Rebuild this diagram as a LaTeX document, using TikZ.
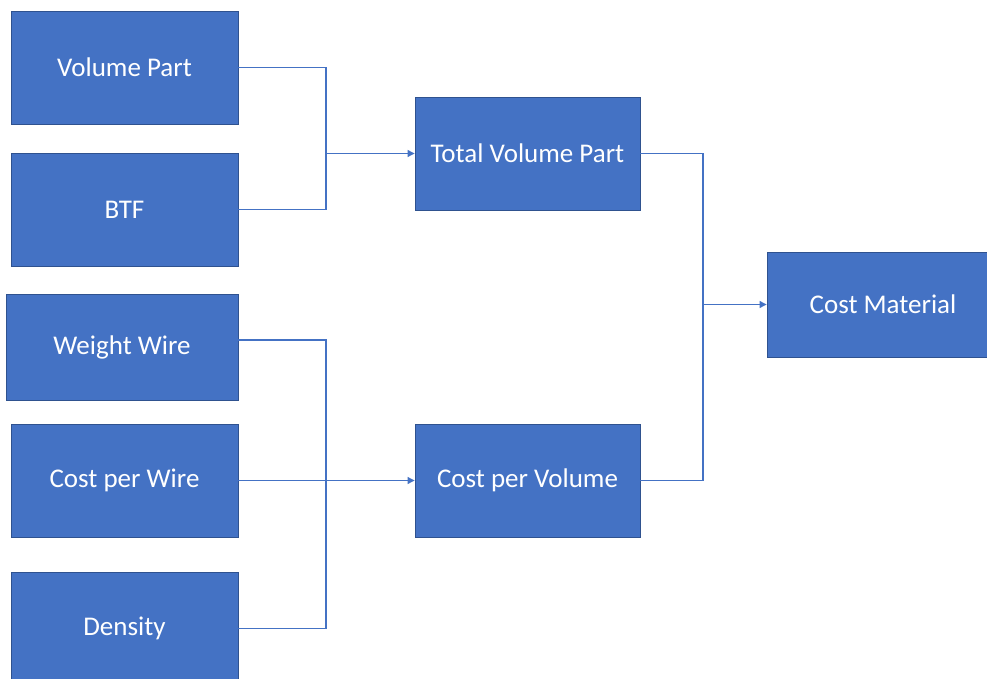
\documentclass[tikz,border=0pt]{standalone}
\usepackage{fontspec}
\setmainfont{Carlito}
\usetikzlibrary{arrows.meta}
\definecolor{boxfill}{HTML}{4472C4}
\definecolor{boxedge}{HTML}{2F528F}
\definecolor{wire}{HTML}{4472C4}
\tikzset{
  blockbox/.style={draw=boxedge, line width=0.9pt, fill=boxfill, text=white,
    font=\fontsize{27}{30}\selectfont, inner sep=0pt, anchor=center},
  link/.style={draw=wire, line width=1.1pt},
  feed/.style={link, -{Triangle[length=7pt,width=7pt]}}
}
\begin{document}
\begin{tikzpicture}[x=1pt,y=-1pt]
  \useasboundingbox (0,0) rectangle (987,679);
  \clip (0,0) rectangle (987,679);
  \fill[white] (0,0) rectangle (987,679);

  % input blocks
  \node[blockbox, minimum width=227pt, minimum height=113pt] (vp)  at (124.5,67.5)  {Volume Part};
  \node[blockbox, minimum width=227pt, minimum height=113pt] (btf) at (124.5,209.5) {BTF};
  \node[blockbox, minimum width=232pt, minimum height=106pt] (ww)  at (122,347.5)   {Weight Wire};
  \node[blockbox, minimum width=227pt, minimum height=113pt] (cpw) at (124.5,480.5) {Cost per Wire};
  \node[blockbox, minimum width=227pt, minimum height=113pt] (den) at (124.5,628.5) {Density};

  % intermediate blocks
  \node[blockbox, minimum width=225pt, minimum height=113pt] (tvp) at (527.5,153.5) {Total Volume Part};
  \node[blockbox, minimum width=225pt, minimum height=113pt] (cpv) at (527.5,480.5) {Cost per Volume};

  % result block
  \node[blockbox, minimum width=232pt, minimum height=105pt] (cm)  at (883,304.5)   {Cost Material};

  % junction points of the combining connectors
  \coordinate (j1) at (326,153.5);
  \coordinate (j2) at (326,480.5);
  \coordinate (j3) at (703,304.5);

  \draw[link] (vp.east) -| (j1) |- (btf.east);
  \draw[feed] (j1) -- (tvp.west);

  \draw[link] ([yshift=7.5pt]ww.east) -| (j2) |- (den.east);
  \draw[feed] (cpw.east) -- (cpv.west);

  \draw[link] (tvp.east) -| (j3) |- (cpv.east);
  \draw[feed] (j3) -- (cm.west);
\end{tikzpicture}
\end{document}
